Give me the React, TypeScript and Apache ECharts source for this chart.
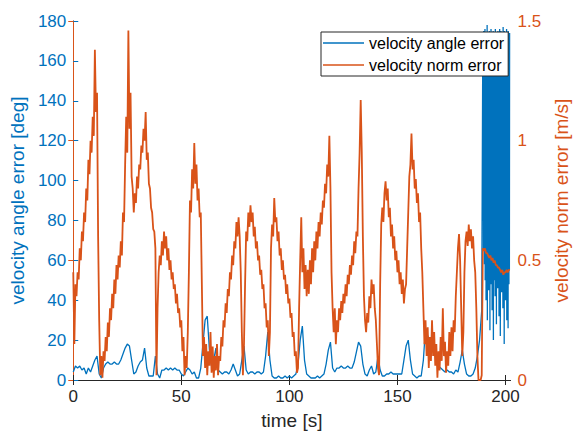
import React, { useEffect, useRef } from "react";
import * as echarts from "echarts";

// velocity norm error [m/s], sampled every 0.5 s starting at t = 0
const NORM_STEP = 0.5;
const normErr: number[] = [
  0.45, 0.15, 0.40, 0.35, 0.45, 0.42, 0.55, 0.50, 0.62, 0.58,
  0.70, 0.66, 0.80, 0.75, 0.92, 0.86, 1.00, 0.95, 1.10, 1.02,
  1.38, 1.12, 1.20, 0.60, 0.25, 0.02, 0.10, 0.01, 0.12, 0.08,
  0.18, 0.12, 0.24, 0.18, 0.30, 0.25, 0.36, 0.30, 0.42, 0.36,
  0.48, 0.42, 0.52, 0.47, 0.58, 0.52, 0.70, 0.66, 0.90, 1.10,
  0.95, 1.46, 1.05, 1.20, 0.85, 0.80, 0.70, 0.78, 0.74, 0.85,
  0.80, 0.90, 0.88, 0.98, 0.95, 1.05, 1.00, 1.12, 0.92, 0.95,
  0.82, 0.80, 0.72, 0.70, 0.63, 0.62, 0.55, 0.02, 0.30, 0.45,
  0.52, 0.48, 0.58, 0.52, 0.62, 0.55, 0.60, 0.50, 0.55, 0.46,
  0.50, 0.42, 0.45, 0.38, 0.40, 0.32, 0.36, 0.28, 0.30, 0.22,
  0.25, 0.12, 0.18, 0.02, 0.10, 0.05, 0.20, 0.45, 0.75, 0.70,
  0.88, 0.80, 0.99, 0.82, 0.90, 0.75, 0.80, 0.68, 0.70, 0.40,
  0.10, 0.18, 0.05, 0.15, 0.02, 0.12, 0.06, 0.20, 0.03, 0.14,
  0.01, 0.10, 0.04, 0.15, 0.02, 0.10, 0.08, 0.18, 0.14, 0.25,
  0.22, 0.32, 0.28, 0.38, 0.35, 0.45, 0.42, 0.52, 0.48, 0.58,
  0.55, 0.66, 0.60, 0.68, 0.60, 0.45, 0.20, 0.02, 0.15, 0.40,
  0.62, 0.58, 0.70, 0.64, 0.73, 0.66, 0.70, 0.60, 0.64, 0.55,
  0.58, 0.50, 0.52, 0.44, 0.46, 0.38, 0.40, 0.30, 0.32, 0.22,
  0.25, 0.10, 0.20, 0.55, 0.65, 0.60, 0.76, 0.66, 0.68, 0.58,
  0.62, 0.52, 0.55, 0.46, 0.50, 0.42, 0.44, 0.36, 0.40, 0.32,
  0.34, 0.26, 0.28, 0.18, 0.20, 0.10, 0.12, 0.03, 0.05, 0.30,
  0.50, 0.68, 0.45, 0.55, 0.38, 0.48, 0.35, 0.46, 0.36, 0.50,
  0.40, 0.55, 0.45, 0.58, 0.50, 0.62, 0.55, 0.66, 0.60, 0.70,
  0.65, 0.75, 0.72, 0.82, 0.78, 0.90, 0.85, 1.02, 0.80, 0.45,
  0.30, 0.20, 0.30, 0.15, 0.25, 0.20, 0.30, 0.25, 0.33, 0.28,
  0.36, 0.32, 0.40, 0.35, 0.44, 0.40, 0.48, 0.44, 0.52, 0.48,
  0.58, 0.53, 0.62, 0.60, 0.80, 0.95, 1.17, 0.95, 0.60, 0.35,
  0.25, 0.20, 0.28, 0.24, 0.35, 0.30, 0.42, 0.36, 0.40, 0.30,
  0.25, 0.15, 0.05, 0.02, 0.40, 0.65, 0.72, 0.66, 0.78, 0.83,
  0.75, 0.80, 0.68, 0.72, 0.60, 0.65, 0.55, 0.60, 0.50, 0.54,
  0.45, 0.50, 0.40, 0.45, 0.36, 0.42, 0.32, 0.38, 0.40, 0.55,
  0.70, 0.85, 0.90, 1.03, 0.88, 0.92, 0.80, 0.84, 0.74, 0.78,
  0.66, 0.70, 0.55, 0.45, 0.30, 0.15, 0.25, 0.10, 0.22, 0.05,
  0.18, 0.08, 0.25, 0.10, 0.20, 0.06, 0.15, 0.01, 0.12, 0.04,
  0.18, 0.08, 0.30, 0.10, 0.16, 0.03, 0.12, 0.06, 0.20, 0.10,
  0.22, 0.12, 0.25, 0.20, 0.35, 0.45, 0.55, 0.61, 0.50, 0.30,
  0.10, 0.20, 0.45, 0.58, 0.62, 0.56, 0.65, 0.58, 0.63, 0.55,
  0.60, 0.50, 0.45, 0.30, 0.10, 0.00, 0.00, 0.00, 0.02, 0.55,
  0.54, 0.55, 0.53, 0.53, 0.52, 0.51, 0.52, 0.50, 0.51, 0.49,
  0.50, 0.48, 0.48, 0.47, 0.47, 0.46, 0.45, 0.46, 0.44, 0.45,
  0.45, 0.46, 0.45, 0.46, 0.46,
];

// velocity angle error [deg], sampled every 1 s from t = 0 to 189
const ANGLE_STEP = 1;
const angleErr: number[] = [
  4, 7, 6, 7, 5, 6, 3, 6, 4, 7,
  10, 12, 3, 1, 6, 8, 9, 8, 8, 9,
  8, 8, 10, 13, 16, 18, 17, 10, 3, 4,
  7, 9, 10, 16, 6, 2, 2, 2, 12, 3,
  1, 5, 5, 6, 5, 6, 5, 6, 5, 5,
  3, 2, 4, 6, 5, 3, 4, 1, 1, 6,
  18, 30, 32, 15, 7, 10, 16, 5, 4, 3,
  4, 4, 3, 5, 8, 5, 2, 3, 10, 17,
  5, 3, 4, 4, 3, 4, 4, 3, 4, 12,
  24, 10, 2, 1, 1, 2, 1, 1, 2, 1,
  2, 1, 2, 3, 8, 20, 27, 10, 3, 2,
  1, 1, 1, 2, 1, 2, 3, 8, 15, 19,
  6, 4, 6, 6, 7, 6, 6, 7, 6, 6,
  9, 14, 19, 17, 8, 3, 2, 5, 7, 3,
  4, 12, 5, 2, 2, 3, 3, 4, 3, 3,
  3, 3, 3, 10, 17, 20, 10, 3, 2, 1,
  2, 2, 10, 26, 22, 20, 18, 17, 10, 7,
  6, 5, 4, 5, 4, 4, 3, 5, 4, 9,
  15, 8, 3, 2, 2, 3, 6, 12, 20, 35,
];

// velocity angle error [deg] in the oscillating tail, every 0.1 s from t = 189.5
const TAIL_START = 189.5;
const TAIL_STEP = 0.1;
const angleTail: number[] = [
  172, 80, 168, 65, 175, 95, 170, 58, 165, 72,
  176, 50, 171, 88, 169, 40, 174, 66, 167, 55,
  178, 30, 170, 75, 166, 60, 173, 45, 171, 85,
  175, 52, 168, 25, 172, 70, 170, 62, 176, 48,
  169, 90, 174, 35, 167, 68, 172, 56, 175, 20,
  170, 78, 168, 50, 173, 64, 171, 42, 176, 82,
  169, 58, 172, 28, 174, 72, 167, 60, 171, 46,
  175, 86, 170, 54, 168, 32, 173, 66, 176, 50,
  172, 22, 169, 76, 175, 62, 170, 44, 166, 80,
  174, 56, 171, 36, 177, 70, 169, 58, 172, 18,
  175, 74, 168, 64, 170, 40, 174, 84, 171, 52,
  176, 30, 167, 68, 173, 60, 170, 26, 175, 78,
  172, 48, 169, 55, 174,
];

const xTicks = [0, 50, 100, 150, 200];
const X_MAX = 202.3;

const BLUE = "#0072BD";
const ORANGE = "#D95319";
const DARK = "#262626";
const FONT = "'Liberation Sans', Arial, Helvetica, sans-serif";

export default function App() {
  const ref = useRef<HTMLDivElement>(null);

  useEffect(() => {
    if (!ref.current) return;
    const chart = echarts.init(ref.current, undefined, { renderer: "svg" });

    const normData = normErr.map((v, i) => [+(i * NORM_STEP).toFixed(2), v]);
    const angleData = angleErr
      .map((v, i) => [i * ANGLE_STEP, v])
      .concat(angleTail.map((v, i) => [+(TAIL_START + i * TAIL_STEP).toFixed(2), v]));

    const xCommon = {
      type: "value" as const,
      min: 0,
      max: X_MAX,
      splitLine: { show: false },
      axisLine: { show: true, lineStyle: { color: DARK, width: 1 } },
      axisTick: {
        show: true,
        inside: true,
        length: 5,
        customValues: xTicks,
        lineStyle: { color: DARK, width: 1 },
      },
    };

    chart.setOption({
      animation: false,
      backgroundColor: "#ffffff",
      textStyle: { fontFamily: FONT },
      grid: { left: 72, right: 61, top: 21, bottom: 53, containLabel: false },
      legend: {
        orient: "vertical",
        left: 321,
        top: 32,
        padding: [3, 4, 3, 2],
        itemGap: 6,
        itemWidth: 41,
        itemHeight: 1.5,
        icon: "rect",
        borderColor: DARK,
        borderWidth: 1,
        borderRadius: 0,
        backgroundColor: "#ffffff",
        textStyle: { fontSize: 16, color: "#000000", fontFamily: FONT },
        data: ["velocity angle error", "velocity norm error"],
      },
      xAxis: [
        {
          ...xCommon,
          position: "bottom",
          axisLabel: {
            customValues: xTicks,
            color: DARK,
            fontSize: 17,
            fontFamily: FONT,
            margin: 8,
          },
          name: "time [s]",
          nameLocation: "middle",
          nameGap: 31,
          nameTextStyle: { color: DARK, fontSize: 19, fontFamily: FONT },
        },
        {
          ...xCommon,
          position: "top",
          axisLabel: { show: false },
        },
      ],
      yAxis: [
        {
          type: "value",
          min: 0,
          max: 180,
          interval: 20,
          position: "left",
          splitLine: { show: false },
          axisLine: { show: true, lineStyle: { color: BLUE, width: 1 } },
          axisTick: { show: true, inside: true, length: 5, lineStyle: { color: BLUE } },
          axisLabel: { color: BLUE, fontSize: 17, fontFamily: FONT, margin: 7 },
          name: "velocity angle error [deg]",
          nameLocation: "middle",
          nameRotate: 90,
          nameGap: 39,
          nameTextStyle: { color: BLUE, fontSize: 19, fontFamily: FONT },
        },
        {
          type: "value",
          min: 0,
          max: 1.5,
          interval: 0.5,
          position: "right",
          splitLine: { show: false },
          axisLine: { show: true, lineStyle: { color: ORANGE, width: 1 } },
          axisTick: { show: true, inside: true, length: 5, lineStyle: { color: ORANGE } },
          axisLabel: { color: ORANGE, fontSize: 17, fontFamily: FONT, margin: 7 },
          name: "velocity norm error [m/s]",
          nameLocation: "middle",
          nameRotate: 90,
          nameGap: 36,
          nameTextStyle: { color: ORANGE, fontSize: 19, fontFamily: FONT },
        },
      ],
      series: [
        {
          type: "line",
          name: "velocity angle error",
          xAxisIndex: 0,
          yAxisIndex: 0,
          data: angleData,
          symbol: "none",
          showSymbol: false,
          lineStyle: { width: 1.3, color: BLUE },
          itemStyle: { color: BLUE },
          z: 2,
        },
        {
          type: "line",
          name: "velocity norm error",
          xAxisIndex: 0,
          yAxisIndex: 1,
          data: normData,
          symbol: "none",
          showSymbol: false,
          lineStyle: { width: 1.8, color: ORANGE },
          itemStyle: { color: ORANGE },
          z: 3,
        },
      ],
    });

    return () => {
      chart.dispose();
    };
  }, []);

  return (
    <div
      ref={ref}
      style={{ position: "fixed", left: 0, top: 0, width: 579, height: 435, background: "#fff" }}
    />
  );
}
